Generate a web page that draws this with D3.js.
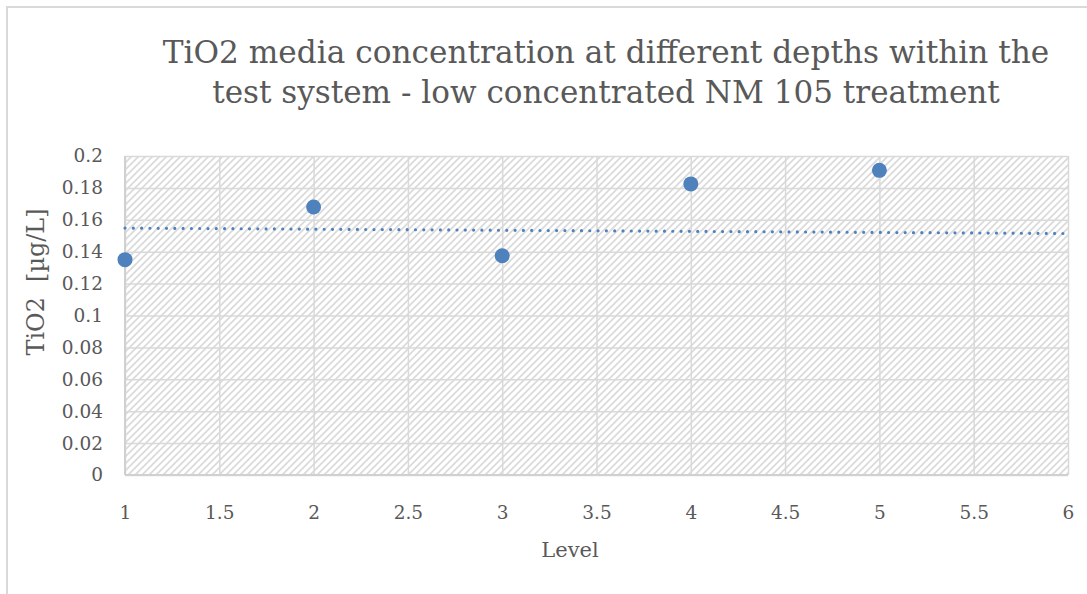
<!DOCTYPE html>
<html>
<head>
<meta charset="utf-8">
<script src="https://cdn.jsdelivr.net/npm/d3@7"></script>
<style>
  body { margin: 0; background: #fff; }
  svg text { font-family: "DejaVu Serif", "Liberation Serif", serif; fill: #595959; }
</style>
</head>
<body>
<svg id="chart" width="1087" height="594"></svg>
<script>
// data
var levels = [1, 2, 3, 4, 5];
var tio2 = [0.135, 0.168, 0.1375, 0.1825, 0.191];
// dotted trend line end points
var trendX = [1, 6];
var trendY = [0.1548, 0.1514];
var xTicks = [1, 1.5, 2, 2.5, 3, 3.5, 4, 4.5, 5, 5.5, 6];
var yTicks = [0, 0.02, 0.04, 0.06, 0.08, 0.1, 0.12, 0.14, 0.16, 0.18, 0.2];
var titleLines = ['TiO2 media concentration at different depths within the',
                  'test system - low concentrated NM 105 treatment'];

var svg = d3.select('#chart'),
    margin = {top: 156, right: 19, bottom: 119, left: 125},
    width = +svg.attr('width') - margin.left - margin.right,
    height = +svg.attr('height') - margin.top - margin.bottom;

// outer chart frame
svg.append('rect')
  .attr('x', 7).attr('y', 7)
  .attr('width', 1100).attr('height', 620)
  .attr('fill', 'none')
  .attr('stroke', '#d9d9d9')
  .attr('stroke-width', 2);

// hatch pattern for the plot area
var pat = svg.append('defs').append('pattern')
  .attr('id', 'hatch')
  .attr('patternUnits', 'userSpaceOnUse')
  .attr('width', 7).attr('height', 7);
pat.append('rect').attr('width', 7).attr('height', 7).attr('fill', '#fff');
pat.append('path')
  .attr('d', 'M-1,1 L1,-1 M0,7 L7,0 M6,8 L8,6')
  .attr('stroke', '#dadada')
  .attr('stroke-width', 1.7);

var x = d3.scaleLinear().domain([1, 6]).range([0, width]);
var y = d3.scaleLinear().domain([0, 0.2]).range([height, 0]);

var g = svg.append('g').attr('transform', 'translate(' + margin.left + ',' + margin.top + ')');

g.append('rect')
  .attr('width', width).attr('height', height)
  .attr('fill', 'url(#hatch)');

// gridlines
g.append('g')
  .call(d3.axisLeft(y).tickValues(yTicks).tickSize(-width).tickFormat(''))
  .call(function(a) {
    a.select('.domain').remove();
    a.selectAll('line').attr('stroke', '#d9d9d9').attr('stroke-width', 1.5);
  });
g.append('g')
  .attr('transform', 'translate(0,' + height + ')')
  .call(d3.axisBottom(x).tickValues(xTicks).tickSize(-height).tickFormat(''))
  .call(function(a) {
    a.select('.domain').remove();
    a.selectAll('line').attr('stroke', '#d9d9d9').attr('stroke-width', 1.5);
  });

// axis lines
g.append('line').attr('x1', 0).attr('x2', 0).attr('y1', 0).attr('y2', height)
  .attr('stroke', '#d0d0d0').attr('stroke-width', 2);
g.append('line').attr('x1', 0).attr('x2', width).attr('y1', height).attr('y2', height)
  .attr('stroke', '#d0d0d0').attr('stroke-width', 2);

// tick labels
g.append('g')
  .call(d3.axisLeft(y).tickValues(yTicks).tickSize(0).tickPadding(22).tickFormat(d3.format('~g')))
  .call(function(a) {
    a.select('.domain').remove();
    a.selectAll('text').attr('font-size', 18.5).attr('fill', '#595959')
      .attr('font-family', '"DejaVu Serif", serif');
  });
g.append('g')
  .attr('transform', 'translate(0,' + height + ')')
  .call(d3.axisBottom(x).tickValues(xTicks).tickSize(0).tickPadding(31).tickFormat(d3.format('~g')))
  .call(function(a) {
    a.select('.domain').remove();
    a.selectAll('text').attr('font-size', 18.5).attr('fill', '#595959')
      .attr('font-family', '"DejaVu Serif", serif');
  });

// trend line
var line = d3.line()
  .x(function(d) { return x(d[0]); })
  .y(function(d) { return y(d[1]); });
g.append('path')
  .datum(d3.zip(trendX, trendY))
  .attr('d', line)
  .attr('fill', 'none')
  .attr('stroke', '#4f81bd')
  .attr('stroke-width', 3.2)
  .attr('stroke-linecap', 'round')
  .attr('stroke-dasharray', '0,8.3');

// points
g.selectAll('.dot')
  .data(d3.zip(levels, tio2))
  .enter().append('circle')
  .attr('class', 'dot')
  .attr('cx', function(d) { return x(d[0]); })
  .attr('cy', function(d) { return y(d[1]); })
  .attr('r', 7.5)
  .attr('fill', '#4f81bd');

// fit a text's font size so it spans the width seen in the picture
function fit(tx, base, target) {
  var w = tx.node().getComputedTextLength();
  tx.attr('font-size', base * target / w);
}

// title
var titleWidths = [887, 788];
var titleBase = [63, 103];
titleLines.forEach(function(t, i) {
  var tx = svg.append('text')
    .attr('x', 606).attr('y', titleBase[i])
    .attr('text-anchor', 'middle')
    .attr('font-size', 30)
    .text(t);
  fit(tx, 30, titleWidths[i]);
});

// axis titles
svg.append('text')
  .attr('x', 570).attr('y', 557)
  .attr('text-anchor', 'middle')
  .attr('font-size', 21)
  .text('Level');
var yl = svg.append('text')
  .attr('transform', 'translate(44,282) rotate(-90)')
  .attr('text-anchor', 'middle')
  .attr('font-size', 20)
  .attr('xml:space', 'preserve')
  .style('white-space', 'pre')
  .text('TiO2  [µg/L]');
fit(yl, 20, 147);
</script>
</body>
</html>
